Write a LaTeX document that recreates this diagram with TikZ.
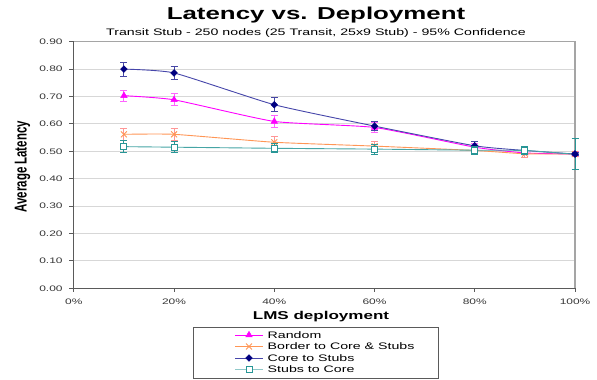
\documentclass[tikz,border=0pt]{standalone}
\usepackage{fontspec}
\setmainfont{Liberation Sans}
\usetikzlibrary{shapes.geometric,shapes.misc}

% chart text is set wide: horizontal stretch of 1.5
\newcommand{\widetext}[1]{\scalebox{1.5}[1]{#1}}
\newcommand{\tallrot}[1]{\scalebox{1}[1.5]{#1}}

\definecolor{randomc}{RGB}{255,0,255}
\definecolor{randomerr}{RGB}{255,100,255}
\definecolor{borderc}{RGB}{255,150,85}
\definecolor{bordererr}{RGB}{255,150,150}
\definecolor{corec}{RGB}{0,0,128}
\definecolor{coreline}{RGB}{70,70,170}
\definecolor{coreerr}{RGB}{70,70,165}
\definecolor{stubsc}{RGB}{40,150,150}
\definecolor{stubsline}{RGB}{70,165,165}
\definecolor{gridc}{RGB}{215,215,215}
\definecolor{framec}{RGB}{165,165,165}
\definecolor{axisc}{RGB}{90,90,90}
\definecolor{labelc}{RGB}{55,55,55}

\tikzset{
  gridline/.style={draw=gridc, line width=0.9bp},
  frameline/.style={draw=framec, line width=1.2bp},
  axisline/.style={draw=axisc, line width=0.9bp},
  ticklabel/.style={text=labelc, font=\fontsize{8}{9}\selectfont, inner sep=0pt},
  series/.style={line width=0.9bp, smooth, tension=0.3},
  errbar/.style={line width=0.9bp},
  randommark/.style={regular polygon, regular polygon sides=3, fill=randomc, draw=randomc,
    minimum size=7.5bp, inner sep=0pt, line width=0.4bp},
  bordermark/.style={cross out, draw=borderc, minimum size=5bp, inner sep=0pt, line width=0.9bp},
  coremark/.style={diamond, fill=corec, draw=corec, minimum size=7bp, inner sep=0pt, line width=0.3bp},
  stubsmark/.style={rectangle, draw=stubsc, fill=white, minimum size=6bp, inner sep=0pt, line width=0.9bp},
  legendtext/.style={font=\fontsize{9.5}{11}\selectfont, anchor=west, inner sep=0pt},
}

\begin{document}
\begin{tikzpicture}[x=1bp, y=-1bp]
\useasboundingbox (0,0) rectangle (597,379);
\fill[white] (0,0) rectangle (597,379);

% titles
\node[anchor=base, font=\fontsize{17.3}{20}\selectfont\bfseries, inner sep=0pt] (title) at (316,19.5)
  {\widetext{Latency vs. Deployment}};
\node[anchor=base, font=\fontsize{9.5}{11}\selectfont, inner sep=0pt] (subtitle) at (316,35)
  {\widetext{Transit Stub - 250 nodes (25 Transit, 25x9 Stub) - 95\% Confidence}};

% axis titles
\node[rotate=90, font=\fontsize{11.5}{13}\selectfont\bfseries, inner sep=0pt] (ytitle) at (22.5,166.7)
  {\tallrot{Average Latency}};
\node[anchor=base, font=\fontsize{11.4}{13}\selectfont\bfseries, inner sep=0pt] (xtitle) at (321,319)
  {\widetext{LMS deployment}};

% plot area: x in percent, y in latency
\begin{scope}[shift={(73.8,288.3)}, x=5.0125bp, y=274bp]
  \foreach \v in {0.1,0.2,0.3,0.4,0.5,0.6,0.7,0.8}
    \draw[gridline] (0,\v) -- (100,\v);
  \draw[frameline] (0,0.9) -- (100,0.9) -- (100,0);
  \draw[axisline] (0,0.9) -- (0,0) -- (100,0);
  \foreach \v/\t in {0/0.00,0.1/0.10,0.2/0.20,0.3/0.30,0.4/0.40,0.5/0.50,0.6/0.60,0.7/0.70,0.8/0.80,0.9/0.90} {
    \draw[axisline] (0,\v) -- ++(-4.5bp,0);
    \node[ticklabel, anchor=east] at ([xshift=-11bp]0,\v) {\widetext{\t}};
  }
  \foreach \p in {0,20,40,60,80,100} {
    \draw[axisline] (\p,0) -- ++(0,-3.5bp);
    \node[ticklabel] at ([yshift=-13.4bp]\p,0) {\widetext{\p\%}};
  }

  % Random
  \draw[series, draw=randomc] plot coordinates
    {(10,0.703) (20,0.688) (40,0.609) (60,0.587) (80,0.515) (90,0.494) (100,0.490)};
  \foreach \p/\v/\e in {10/0.703/0.020,20/0.688/0.022,40/0.609/0.022,60/0.587/0.018,80/0.515/0.015,90/0.494/0.016,100/0.490/0.008} {
    \draw[errbar, draw=randomerr] (\p,{\v-\e}) -- (\p,{\v+\e});
    \draw[errbar, draw=randomerr] (\p,{\v+\e}) ++(-3.5bp,0) -- ++(7bp,0);
    \draw[errbar, draw=randomerr] (\p,{\v-\e}) ++(-3.5bp,0) -- ++(7bp,0);
    \node[randommark] at (\p,\v) {};
  }

  % Border to Core & Stubs
  \draw[series, draw=borderc] plot coordinates
    {(10,0.562) (20,0.562) (40,0.533) (60,0.519) (80,0.503) (90,0.491) (100,0.490)};
  \foreach \p/\v/\e in {10/0.562/0.023,20/0.562/0.023,40/0.533/0.020,60/0.519/0.018,80/0.503/0.012,90/0.491/0.012,100/0.490/0.006} {
    \draw[errbar, draw=bordererr] (\p,{\v-\e}) -- (\p,{\v+\e});
    \draw[errbar, draw=bordererr] (\p,{\v+\e}) ++(-3.5bp,0) -- ++(7bp,0);
    \draw[errbar, draw=bordererr] (\p,{\v-\e}) ++(-3.5bp,0) -- ++(7bp,0);
    \node[bordermark] at (\p,\v) {};
  }

  % Core to Stubs
  \draw[series, draw=coreline] plot coordinates
    {(10,0.800) (20,0.786) (40,0.670) (60,0.592) (80,0.520) (90,0.503) (100,0.490)};
  \foreach \p/\v/\e in {10/0.800/0.025,20/0.786/0.025,40/0.670/0.025,60/0.592/0.016,80/0.520/0.016,90/0.503/0.010,100/0.490/0.005} {
    \draw[errbar, draw=coreerr] (\p,{\v-\e}) -- (\p,{\v+\e});
    \draw[errbar, draw=coreerr] (\p,{\v+\e}) ++(-3.5bp,0) -- ++(7bp,0);
    \draw[errbar, draw=coreerr] (\p,{\v-\e}) ++(-3.5bp,0) -- ++(7bp,0);
    \node[coremark] at (\p,\v) {};
  }

  % Stubs to Core
  \draw[series, draw=stubsline] plot coordinates
    {(10,0.517) (20,0.515) (40,0.511) (60,0.508) (80,0.504) (90,0.503) (100,0.489)};
  \foreach \p/\v/\e in {10/0.517/0.021,20/0.515/0.021,40/0.511/0.017,60/0.508/0.018,80/0.504/0.015,90/0.503/0.016,100/0.489/0.057} {
    \draw[errbar, draw=stubsc] (\p,{\v-\e}) -- (\p,{\v+\e});
    \draw[errbar, draw=stubsc] (\p,{\v+\e}) ++(-3.5bp,0) -- ++(7bp,0);
    \draw[errbar, draw=stubsc] (\p,{\v-\e}) ++(-3.5bp,0) -- ++(7bp,0);
  }
  \node[stubsmark] at (10,0.517) {};
  \node[stubsmark] at (20,0.515) {};
  \node[stubsmark] at (40,0.511) {};
  \node[stubsmark] at (60,0.508) {};
  \node[stubsmark] at (80,0.504) {};
  \node[stubsmark] at (90,0.503) {};
  \node[coremark] at (100,0.490) {};
\end{scope}

% legend
\node[draw=axisc, line width=0.8bp, anchor=north west, minimum width=245bp, minimum height=51bp, inner sep=0pt]
  (legend) at (193.3,327.3) {};
\coordinate (l1a) at (235,335);   \coordinate (l1b) at (263,335);
\coordinate (l2a) at (235,346.5); \coordinate (l2b) at (263,346.5);
\coordinate (l3a) at (235,358);   \coordinate (l3b) at (263,358);
\coordinate (l4a) at (235,369.5); \coordinate (l4b) at (263,369.5);
\draw[line width=0.9bp, randomc] (l1a) -- (l1b);
\node[randommark] (m1) at (249,335) {};
\node[legendtext] (t1) at (267.5,335) {\widetext{Random}};
\draw[line width=0.9bp, borderc] (l2a) -- (l2b);
\node[bordermark] (m2) at (249,346.5) {};
\node[legendtext] (t2) at (267.5,346.5) {\widetext{Border to Core \& Stubs}};
\draw[line width=0.9bp, coreline] (l3a) -- (l3b);
\node[coremark] (m3) at (249,358) {};
\node[legendtext] (t3) at (267.5,358) {\widetext{Core to Stubs}};
\draw[line width=1.4bp, stubsline!60] (l4a) -- (l4b);
\node[stubsmark] (m4) at (249,369.5) {};
\node[legendtext] (t4) at (267.5,369.5) {\widetext{Stubs to Core}};
\end{tikzpicture}
\end{document}
